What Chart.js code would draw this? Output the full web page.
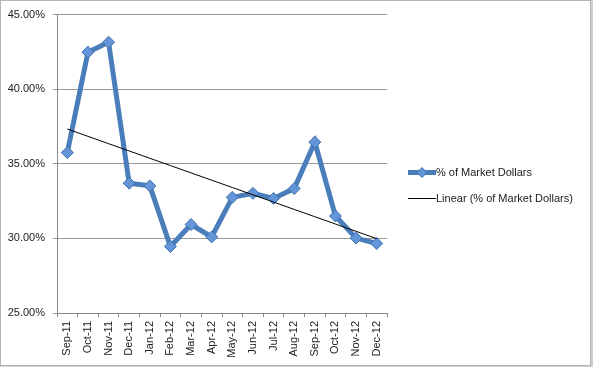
<!DOCTYPE html>
<html>
<head>
<meta charset="utf-8">
<script src="https://cdn.jsdelivr.net/npm/chart.js@4"></script>
<style>
  html, body { margin: 0; padding: 0; background: #cfcfcf; }
  #frame {
    position: absolute; left: 0; top: 0;
    width: 589px; height: 364px;
    background: #fff;
    border: 1px solid #b5b5b5;
  }
  #chart { position: absolute; left: -1px; top: -1px; }
  .legend { position: absolute; left: 405px; font: 11px "Liberation Sans", Arial, sans-serif; color: #222; }
  .legend .row { position: absolute; left: 0; white-space: nowrap; height: 14px; line-height: 14px; }
  .legend canvas { position: absolute; left: 0; top: 0; }
  .legend span { position: absolute; left: 30px; top: 0; }
</style>
</head>
<body>
<div id="frame">
  <canvas id="chart" width="593" height="367"></canvas>
  <div class="legend">
    <div class="row" style="top:164px"><canvas id="lg1" width="30" height="14"></canvas><span>% of Market Dollars</span></div>
    <div class="row" style="top:190px"><canvas id="lg2" width="30" height="14"></canvas><span>Linear (% of Market Dollars)</span></div>
  </div>
</div>
<script>
// categories and values
const months = ['Sep-11', 'Oct-11', 'Nov-11', 'Dec-11', 'Jan-12', 'Feb-12', 'Mar-12', 'Apr-12',
                'May-12', 'Jun-12', 'Jul-12', 'Aug-12', 'Sep-12', 'Oct-12', 'Nov-12', 'Dec-12'];
const marketShare = [35.75, 42.48, 43.15, 33.70, 33.52, 29.46, 30.93, 30.10,
                     32.75, 33.02, 32.68, 33.34, 36.45, 31.50, 30.02, 29.66];
const yTicks = [25, 30, 35, 40, 45];

const LINE_BLUE = '#4A7EBB';
const POINT_FILL = '#6395D8';
const POINT_EDGE = '#3F71AE';

// least squares trend, same as Excel's "Linear" trendline
function linearTrend(ys) {
    const n = ys.length;
    const mx = (n - 1) / 2;
    const my = ys.reduce((a, b) => a + b, 0) / n;
    let sxy = 0, sxx = 0;
    ys.forEach((y, i) => { sxy += (i - mx) * (y - my); sxx += (i - mx) * (i - mx); });
    const slope = sxy / sxx;
    return ys.map((_, i) => my + slope * (i - mx));
}
const trend = linearTrend(marketShare);

const font = { family: '"Liberation Sans", Arial, sans-serif', size: 11 };

new Chart(document.getElementById('chart'), {
    type: 'line',
    data: {
        labels: months,
        datasets: [{
            label: 'Linear (% of Market Dollars)',
            data: trend,
            borderColor: '#000',
            borderWidth: 1,
            pointRadius: 0,
            fill: false
        }, {
            label: '% of Market Dollars',
            data: marketShare,
            borderColor: LINE_BLUE,
            borderWidth: 5,
            pointStyle: 'rectRot',
            pointRadius: 6,
            pointBackgroundColor: POINT_FILL,
            pointBorderColor: POINT_EDGE,
            pointBorderWidth: 1,
            tension: 0,
            fill: false
        }]
    },
    options: {
        responsive: false,
        animation: false,
        events: [],
        layout: { padding: { left: 6, top: 11, right: 206, bottom: 7 } },
        plugins: { legend: { display: false }, tooltip: { enabled: false } },
        scales: {
            x: {
                offset: true,
                grid: { display: true, drawOnChartArea: false, offset: true, tickLength: 4, color: '#888' },
                border: { color: '#888' },
                ticks: { font: font, color: '#222', minRotation: 90, maxRotation: 90, autoSkip: false, padding: 4 },
                afterFit: s => { s.height = 47; }
            },
            y: {
                min: yTicks[0],
                max: yTicks[yTicks.length - 1],
                afterBuildTicks: s => { s.ticks = yTicks.map(v => ({ value: v })); },
                grid: { color: '#999', tickLength: 4 },
                border: { color: '#888' },
                ticks: { font: font, color: '#222', padding: 8, callback: v => v.toFixed(2) + '%' },
                afterFit: s => { s.width = 51; }
            }
        }
    }
});

// legend samples
function drawSample(id, color, width, marker) {
    const ctx = document.getElementById(id).getContext('2d');
    ctx.strokeStyle = color;
    ctx.lineWidth = width;
    ctx.beginPath();
    ctx.moveTo(2, 7.5);
    ctx.lineTo(30, 7.5);
    ctx.stroke();
    if (marker) {
        ctx.fillStyle = POINT_FILL;
        ctx.strokeStyle = POINT_EDGE;
        ctx.lineWidth = 1;
        ctx.beginPath();
        ctx.moveTo(16, 2.5); ctx.lineTo(21, 7.5); ctx.lineTo(16, 12.5); ctx.lineTo(11, 7.5);
        ctx.closePath();
        ctx.fill();
        ctx.stroke();
    }
}
drawSample('lg1', LINE_BLUE, 5, true);
drawSample('lg2', '#000', 1, false);
</script>
</body>
</html>
